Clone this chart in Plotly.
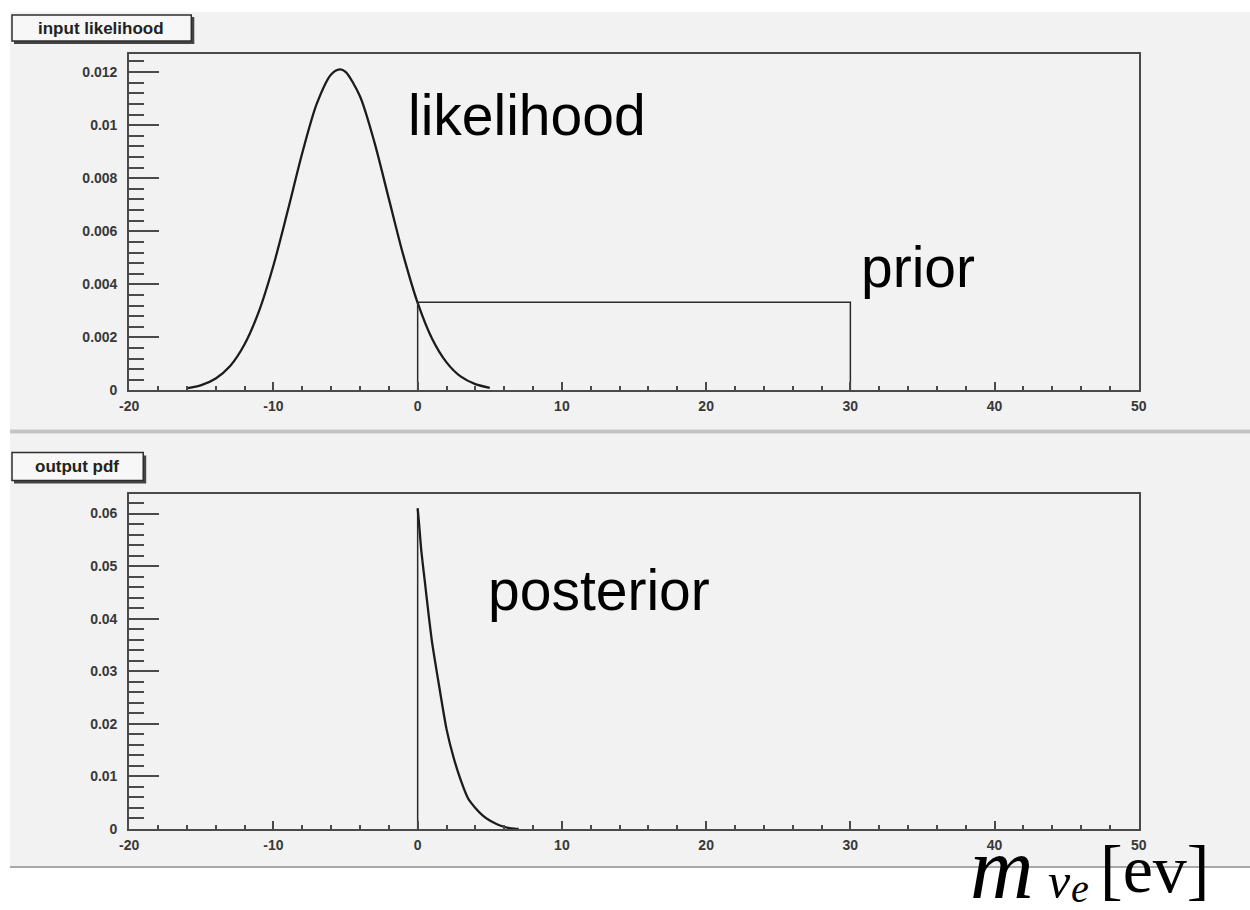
import plotly.graph_objects as go

# ---- data -------------------------------------------------------------
# input likelihood, sampled along m (eV)
lik_x = [-16, -15, -14, -13, -12, -11, -10, -9, -8, -7, -6, -5.4, -5, -4,
         -3, -2, -1, 0, 1, 2, 3, 4, 5]
lik_y = [0.00008, 0.0002, 0.00045, 0.00092, 0.00174, 0.00299, 0.00471,
         0.00679, 0.00895, 0.0108, 0.01191, 0.0121, 0.01201, 0.01109,
         0.00936, 0.00723, 0.00511, 0.0033, 0.00195, 0.00106, 0.00052,
         0.00024, 0.0001]

# flat prior between its two edges
prior_lo, prior_hi = 0, 30
prior_level = 0.00333

# output posterior pdf (cut at m = 0)
post_x = [0, 0.1, 0.25, 0.5, 0.75, 1.0, 1.5, 2.0, 2.5, 3.0, 3.5, 4.0, 4.5,
          5.0, 5.5, 6.0, 6.5, 7.0]
post_y = [0.061, 0.058, 0.053, 0.047, 0.041, 0.0355, 0.027, 0.019, 0.0135,
          0.0092, 0.0058, 0.0040, 0.0026, 0.0016, 0.0009, 0.0004, 0.00012, 0.0]

x_ticks = [-20, -10, 0, 10, 20, 30, 40, 50]
x_tick_text = ["-20", "-10", "0", "10", "20", "30", "40", "50"]
y1_ticks = [0, 0.002, 0.004, 0.006, 0.008, 0.01, 0.012]
y1_tick_text = ["0", "0.002", "0.004", "0.006", "0.008", "0.01", "0.012"]
y2_ticks = [0, 0.01, 0.02, 0.03, 0.04, 0.05, 0.06]
y2_tick_text = ["0", "0.01", "0.02", "0.03", "0.04", "0.05", "0.06"]

# ---- placement helpers (screen pixels -> paper fractions) --------------
W, H = 1250, 910
SX, OX = 0.984, 10.0   # horizontal screen scale / offset of the page
SY = 0.99              # vertical screen scale of the page


def px(x):
    return ((x - OX) / SX) / W


def py(y):
    return 1 - (y / SY) / H


LINE = "#1c1c1c"
AXC = "#4a4a4a"
BG = "#f2f2f2"
tick_font = dict(family="Liberation Sans", size=14, color="#383838", weight="bold")

fig = go.Figure()

fig.add_trace(go.Scatter(x=lik_x, y=lik_y, mode="lines",
                         line=dict(color=LINE, width=2.3, shape="spline", smoothing=0.8),
                         xaxis="x", yaxis="y", showlegend=False, hoverinfo="skip"))
fig.add_trace(go.Scatter(x=[prior_lo, prior_lo, prior_hi, prior_hi],
                         y=[0, prior_level, prior_level, 0], mode="lines",
                         line=dict(color="#2a2a2a", width=1.5),
                         xaxis="x", yaxis="y", showlegend=False, hoverinfo="skip"))
# sharp edge of the posterior at m = 0
fig.add_trace(go.Scatter(x=[post_x[0], post_x[0]], y=[0, post_y[0]], mode="lines",
                         line=dict(color="#2a2a2a", width=1.5),
                         xaxis="x2", yaxis="y2", showlegend=False, hoverinfo="skip"))
fig.add_trace(go.Scatter(x=post_x, y=post_y, mode="lines",
                         line=dict(color=LINE, width=2.3, shape="spline", smoothing=0.6),
                         xaxis="x2", yaxis="y2", showlegend=False, hoverinfo="skip"))


def xaxis_cfg(anchor):
    return dict(domain=[px(129), px(1137)], anchor=anchor, range=[-20, 50],
                tickmode="array", tickvals=x_ticks, ticktext=x_tick_text,
                ticks="inside", ticklen=8, tickwidth=2, tickcolor=AXC,
                minor=dict(ticks="inside", dtick=2, ticklen=4, tickwidth=2, tickcolor=AXC),
                showline=True, linecolor=AXC, linewidth=2, mirror=True,
                showgrid=False, zeroline=False, tickfont=tick_font,
                ticklabelstandoff=2)


def yaxis_cfg(anchor, domain, rng, vals, text, minor_dt):
    return dict(domain=domain, anchor=anchor, range=rng,
                tickmode="array", tickvals=vals, ticktext=text,
                ticks="inside", ticklen=30, tickwidth=2, tickcolor=AXC,
                minor=dict(ticks="inside", dtick=minor_dt, ticklen=15, tickwidth=2,
                           tickcolor=AXC),
                showline=True, linecolor=AXC, linewidth=2, mirror=True,
                showgrid=False, zeroline=False, tickfont=tick_font,
                ticklabelstandoff=7)


shapes = [
    # panel backgrounds and separators
    dict(type="rect", xref="paper", yref="paper", x0=px(10), x1=1.02,
         y0=py(429), y1=py(12), fillcolor=BG, line=dict(width=0), layer="below"),
    dict(type="rect", xref="paper", yref="paper", x0=px(10), x1=1.02,
         y0=py(865), y1=py(433), fillcolor=BG, line=dict(width=0), layer="below"),
    dict(type="line", xref="paper", yref="paper", x0=px(10), x1=1.02,
         y0=py(431), y1=py(431), line=dict(color="#c4c4c4", width=4), layer="below"),
    dict(type="line", xref="paper", yref="paper", x0=px(10), x1=1.02,
         y0=py(866), y1=py(866), line=dict(color="#a8a8a8", width=2), layer="below"),
    # title boxes with drop shadow
    dict(type="rect", xref="paper", yref="paper", x0=px(14), x1=px(194),
         y0=py(44), y1=py(17), fillcolor="#444444", line=dict(width=0)),
    dict(type="rect", xref="paper", yref="paper", x0=px(12), x1=px(191),
         y0=py(41), y1=py(15), fillcolor="#f7f7f7", line=dict(color="#2e2e2e", width=1.5)),
    dict(type="rect", xref="paper", yref="paper", x0=px(14), x1=px(146),
         y0=py(483), y1=py(455), fillcolor="#444444", line=dict(width=0)),
    dict(type="rect", xref="paper", yref="paper", x0=px(12), x1=px(143),
         y0=py(480), y1=py(452), fillcolor="#f7f7f7", line=dict(color="#2e2e2e", width=1.5)),
]

big = dict(family="Liberation Sans", size=57, color="#000000")
box_font = dict(family="Liberation Sans", size=17, color="#222222", weight="bold")
serif = "Liberation Serif"


def note(text, x, y, font, xanchor="center"):
    return dict(text=text, xref="paper", yref="paper", x=px(x), y=py(y),
                showarrow=False, font=font, xanchor=xanchor, yanchor="middle")


annotations = [
    note("input likelihood", 101, 28, box_font),
    note("output pdf", 77, 466, box_font),
    note("likelihood", 526, 115, big),
    note("prior", 917, 267, big),
    note("posterior", 598, 589, big),
    # axis label m_{nu_e} [ev], set piece by piece
    note("<i>m</i>", 966, 867, dict(family=serif, size=88, color="#000000"), "left"),
    note("<i>ν</i>", 1044, 880, dict(family=serif, size=50, color="#000000"), "left"),
    note("<i>e</i>", 1067, 887, dict(family=serif, size=40, color="#000000"), "left"),
    note("[ev]", 1096, 868, dict(family=serif, size=68, color="#000000"), "left"),
]

fig.update_layout(
    width=W, height=H,
    margin=dict(l=0, r=0, t=0, b=0),
    paper_bgcolor="white", plot_bgcolor=BG,
    xaxis=xaxis_cfg("y"),
    yaxis=yaxis_cfg("x", [py(390), py(54)], [0, 0.01268], y1_ticks, y1_tick_text, 0.0004),
    xaxis2=xaxis_cfg("y2"),
    yaxis2=yaxis_cfg("x2", [py(828), py(493)], [0, 0.0638], y2_ticks, y2_tick_text, 0.002),
    shapes=shapes,
    annotations=annotations,
)

fig.write_html("out.html")
